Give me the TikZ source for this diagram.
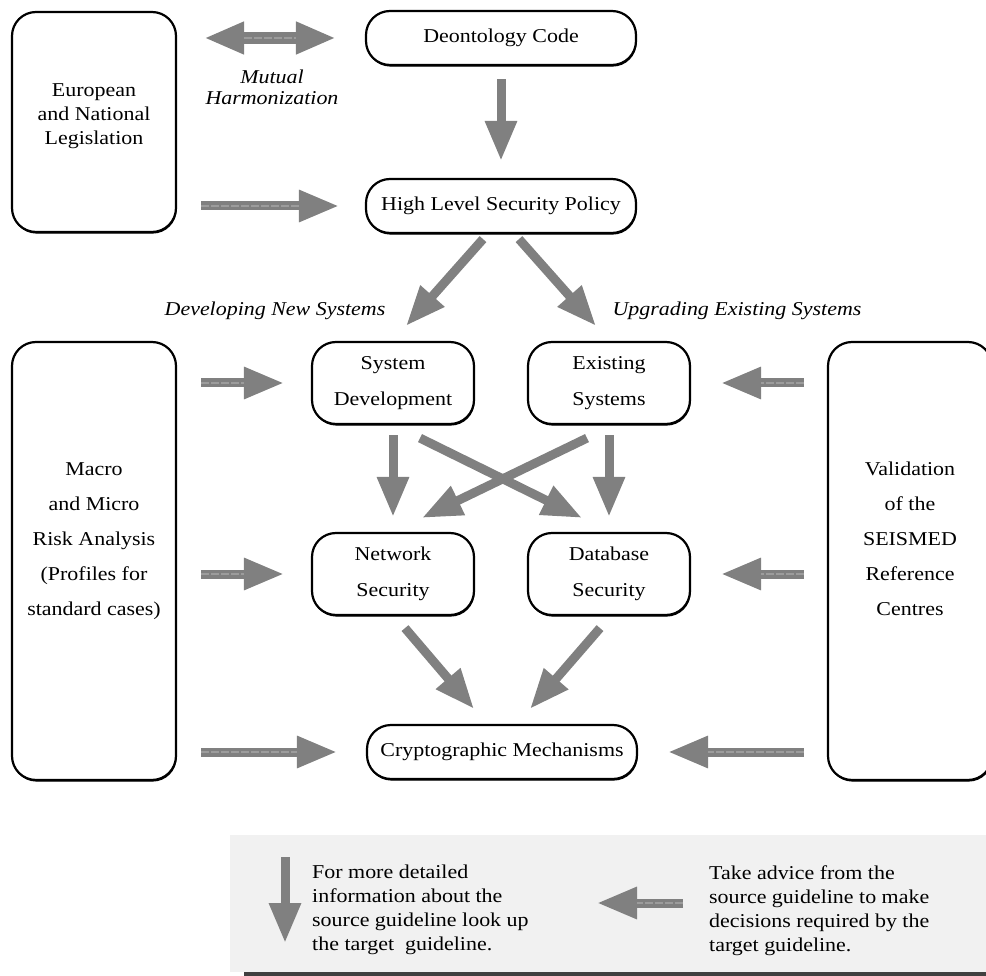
\documentclass[tikz,border=0pt]{standalone}
\usepackage{fontspec}
\setmainfont{Liberation Serif}[FakeStretch=1.12]
\usepackage{tikz}
\usetikzlibrary{arrows.meta,calc,shadows}
\definecolor{arrowgray}{HTML}{808080}
\definecolor{stripe}{HTML}{9C9C9C}
\definecolor{keyback}{HTML}{F1F1F1}
\definecolor{keybar}{HTML}{404040}

\tikzset{
  rbox/.style={draw, fill=white, line width=2.2pt, rounded corners=24pt,
    align=center, inner sep=0pt,
    drop shadow={shadow xshift=0.6pt, shadow yshift=-1.6pt, fill=black, opacity=1}},
  wide/.style={rbox, minimum width=270pt, minimum height=54pt},
  small/.style={rbox, minimum width=162pt, minimum height=82pt,
    font=\fontsize{19.6}{36}\selectfont},
  tall/.style={rbox, minimum width=164pt, minimum height=438pt,
    font=\fontsize{19.6}{35}\selectfont, text depth=44pt},
  note/.style={align=center, font=\fontsize{19.6}{21}\selectfont\itshape},
  key/.style={align=left, inner sep=0pt},
  detail/.style={draw=arrowgray, line width=9pt, -{Triangle[length=40pt,width=30pt]}},
  advice/.style 2 args={detail, shorten <=#1, shorten >=#2,
    postaction={draw=stripe, line width=1.5pt, dash pattern=on 8pt off 2pt, -,
      shorten <=#1, shorten >=#2+40pt}},
  both/.style 2 args={draw=arrowgray, line width=12pt,
    {Triangle[length=40pt,width=30pt]}-{Triangle[length=40pt,width=30pt]},
    shorten <=#1, shorten >=#2,
    postaction={draw=stripe, line width=1.5pt, dash pattern=on 8pt off 2pt, -,
      shorten <=#1+40pt, shorten >=#2+40pt}}
}

\begin{document}
\begin{tikzpicture}[x=1pt, y=-1pt, font=\fontsize{19.6}{24}\selectfont]
        \useasboundingbox (0,0) rectangle (986,976);

        % key
        \fill[keyback] (230,835) rectangle (986,972);
        \fill[keybar] (244,972) rectangle (986,976);

        \path
        % left
        (94,122) node[rbox, minimum width=164pt, minimum height=220pt, text depth=16pt] (law)
          {European\\and National\\Legislation}
        (94,561) node[tall] (risk)
          {Macro\\and Micro\\Risk Analysis\\(Profiles for\\standard cases)}

        % right
        (910,561) node[tall] (valid)
          {Validation\\of the\\SEISMED\\Reference\\Centres}

        % middle
        (501,38) node[wide] (deon) {Deontology Code}
        (501,206) node[wide] (hlsp) {High Level Security Policy}
        (393,383) node[small] (sysdev) {System\\Development}
        (609,383) node[small] (exist) {Existing\\Systems}
        (393,574) node[small] (netsec) {Network\\Security}
        (609,574) node[small] (dbsec) {Database\\Security}
        (502,752) node[wide] (crypto) {Cryptographic Mechanisms}

        % labels
        (272,87) node[note] (mutual) {Mutual\\Harmonization}
        (275,311) node[note] (devnew) {Developing New Systems}
        (737,311) node[note] (upgrade) {Upgrading Existing Systems}
        ;

        \draw[both={27pt}{29pt}] (law.east |- deon.west) -- (deon.west);
        \draw[advice={24pt}{26pt}] (law.east |- hlsp.west) -- (hlsp.west);
        \draw[detail, shorten <=13pt, shorten >=17pt] (deon) -- (hlsp);
        \draw[detail] ($(hlsp.south)+(-18,5)$) -- ($(sysdev.north)+(13,-15)$);
        \draw[detail] ($(hlsp.south)+(18,5)$) -- ($(exist.north)+(-13,-15)$);

        \draw[advice={24pt}{27pt}] (risk.east |- sysdev.west) -- (sysdev.west);
        \draw[advice={24pt}{27pt}] (risk.east |- netsec.west) -- (netsec.west);
        \draw[advice={24pt}{29pt}] (risk.east |- crypto.west) -- (crypto.west);
        \draw[advice={23pt}{30pt}] (valid.west |- exist.east) -- (exist.east);
        \draw[advice={23pt}{30pt}] (valid.west |- dbsec.east) -- (dbsec.east);
        \draw[advice={23pt}{30pt}] (valid.west |- crypto.east) -- (crypto.east);

        \draw[detail, shorten <=10pt, shorten >=15pt] (sysdev) -- (netsec);
        \draw[detail, shorten <=10pt, shorten >=15pt] (exist) -- (dbsec);
        \draw[detail] ($(sysdev.south)+(27,13)$) -- ($(dbsec.north)+(-27,-14)$);
        \draw[detail] ($(exist.south)+(-22,13)$) -- ($(netsec.north)+(29,-14)$);
        \draw[detail] ($(netsec.south)+(12,12)$) -- ($(crypto.north)+(-28,-15)$);
        \draw[detail] ($(dbsec.south)+(-9,12)$) -- ($(crypto.north)+(28,-15)$);

        % key
        \coordinate (dtop) at (285,857);
        \coordinate (dbot) at (285,943);
        \coordinate (astart) at (683,903);
        \coordinate (aend) at (597,903);
        \draw[detail] (dtop) -- (dbot);
        \draw[advice={0pt}{0pt}] (astart) -- (aend);
        \node[key, anchor=north west] (keydetail) at (312,865)
          {For more detailed\\information about the\\source guideline look up\\the target~ guideline.};
        \node[key, anchor=north west] (keyadvice) at (709,865)
          {Take advice from the\\source guideline to make\\decisions required by the\\target guideline.};
      \end{tikzpicture}
\end{document}
